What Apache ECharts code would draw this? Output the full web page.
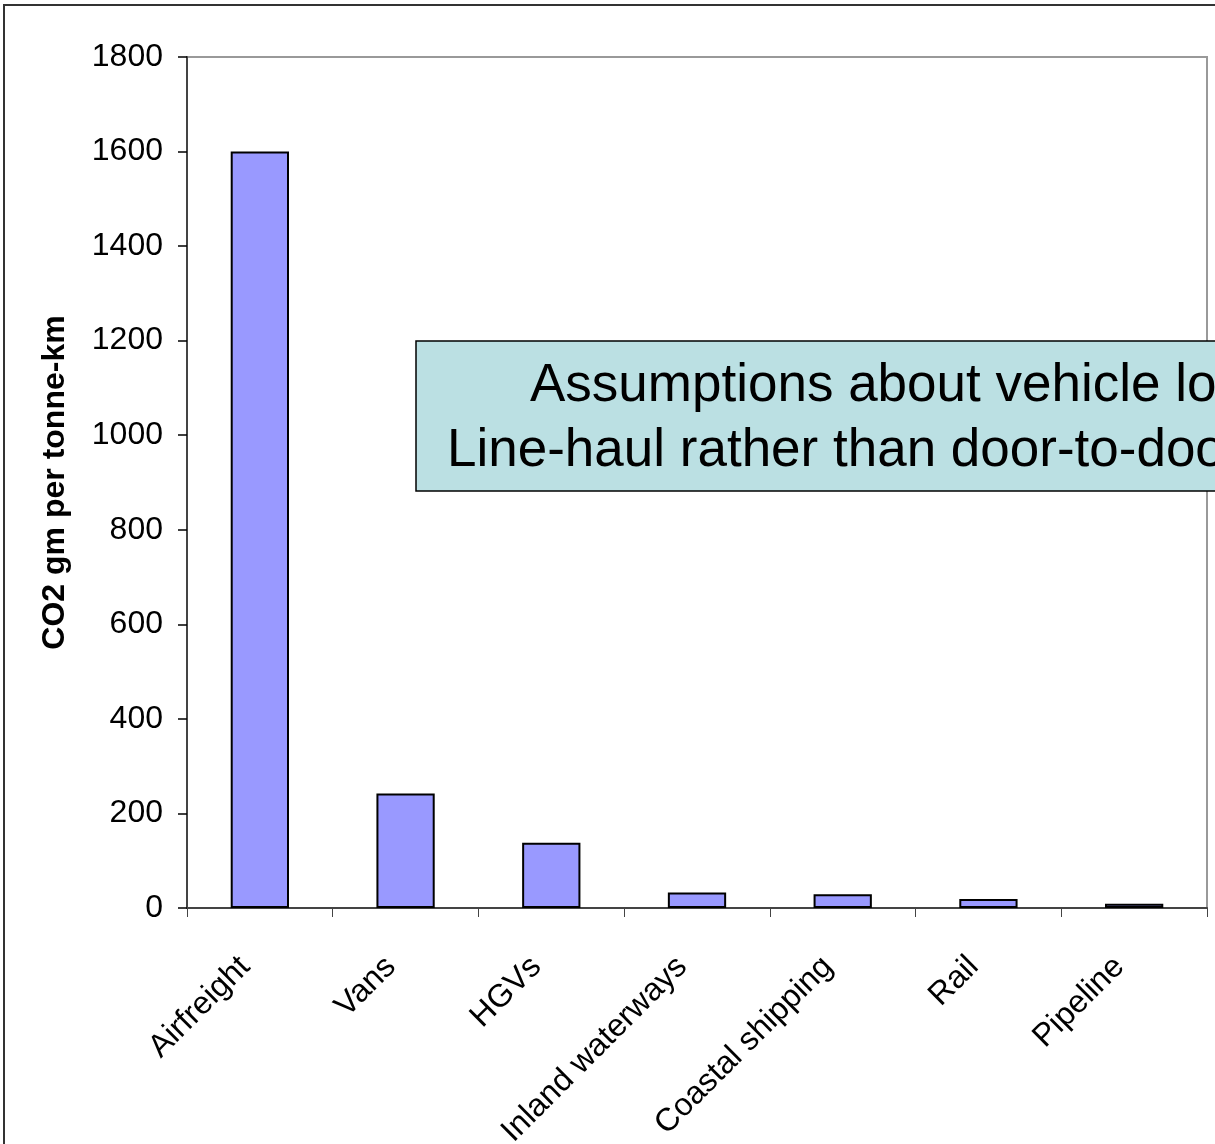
<!DOCTYPE html>
<html>
<head>
<meta charset="utf-8">
<script src="https://cdn.jsdelivr.net/npm/echarts@6/dist/echarts.min.js"></script>
<style>
  html, body { margin: 0; padding: 0; background: #fff; }
  #main { width: 1215px; height: 1144px; }
</style>
</head>
<body>
<div id="main"></div>
<script>
// 数据
let categories = ['Airfreight', 'Vans', 'HGVs', 'Inland waterways', 'Coastal shipping', 'Rail', 'Pipeline'];
let co2Values = [1600, 242, 138, 33, 29, 19, 9];
let yTicks = { min: 0, max: 1800, step: 200 };
let axisName = 'CO2 gm per tonne-km';
let noteLines = ['Assumptions about vehicle loading', 'Line-haul rather than door-to-door'];

let font = 'Liberation Sans, Arial, sans-serif';
let myChart = echarts.init(document.getElementById('main'));
let option = {
  backgroundColor: '#fff',
  animation: false,
  grid: {
    left: 187,
    top: 57,
    right: 8,
    bottom: 236,
    outerBoundsMode: 'none',
    show: true,
    borderColor: '#999',
    borderWidth: 2
  },
  xAxis: {
    type: 'category',
    data: categories,
    axisLine: {
      lineStyle: { color: '#444', width: 2 }
    },
    axisTick: {
      show: true,
      length: 9,
      lineStyle: { color: '#444', width: 1 }
    },
    axisLabel: {
      rotate: 45,
      interval: 0,
      margin: 39,
      padding: [0, 21, 0, 0],
      fontSize: 32,
      color: '#000',
      fontFamily: font
    }
  },
  yAxis: {
    type: 'value',
    min: yTicks.min,
    max: yTicks.max,
    interval: yTicks.step,
    name: axisName,
    nameLocation: 'middle',
    nameGap: 116,
    nameTextStyle: {
      fontSize: 32,
      fontWeight: 'bold',
      color: '#000',
      fontFamily: font
    },
    axisLine: {
      show: true,
      lineStyle: { color: '#444', width: 2 }
    },
    axisTick: {
      show: true,
      length: 9,
      lineStyle: { color: '#000', width: 1.5 }
    },
    axisLabel: {
      margin: 24,
      fontSize: 32,
      color: '#000',
      fontFamily: font,
      formatter: function (v) { return String(v); }
    },
    splitLine: { show: false }
  },
  series: [{
    type: 'bar',
    data: co2Values,
    barCategoryGap: '60%',
    itemStyle: {
      color: '#9999ff',
      borderColor: '#000',
      borderWidth: 2
    }
  }],
  graphic: [
    {
      // 外边框
      type: 'rect',
      shape: { x: 4, y: 5, width: 1400, height: 1400 },
      style: { fill: 'none', stroke: '#333', lineWidth: 2 },
      silent: true
    },
    {
      type: 'group',
      z: 100,
      children: [
        {
          type: 'rect',
          shape: { x: 416, y: 341, width: 900, height: 150 },
          style: { fill: '#bbe0e3', stroke: '#000', lineWidth: 1.5 }
        },
        {
          type: 'text',
          x: 530,
          y: 386,
          style: {
            text: noteLines[0],
            font: '53px ' + font,
            fill: '#000',
            verticalAlign: 'middle'
          }
        },
        {
          type: 'text',
          x: 447,
          y: 451,
          style: {
            text: noteLines[1],
            font: '53px ' + font,
            fill: '#000',
            verticalAlign: 'middle'
          }
        }
      ]
    }
  ]
};
myChart.setOption(option);
</script>
</body>
</html>
